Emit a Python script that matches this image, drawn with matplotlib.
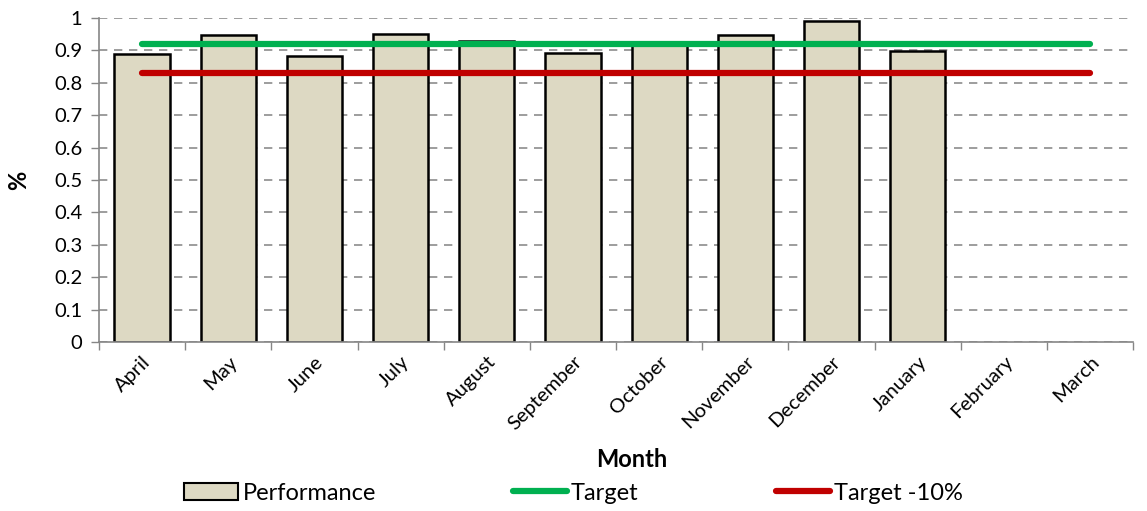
import matplotlib
matplotlib.use("Agg")
import matplotlib.pyplot as plt
from matplotlib.patches import Patch
from matplotlib.lines import Line2D
import numpy as np

months = ["April", "May", "June", "July", "August", "September", "October",
          "November", "December", "January", "February", "March"]
performance = [0.889, 0.948, 0.883, 0.951, 0.929, 0.892, 0.923, 0.948, 0.991, 0.898, None, None]
target = [0.92] * 12
target_minus10 = [0.83] * 12
yticks = [0, 0.1, 0.2, 0.3, 0.4, 0.5, 0.6, 0.7, 0.8, 0.9, 1]
ytick_labels = ["0", "0.1", "0.2", "0.3", "0.4", "0.5", "0.6", "0.7", "0.8", "0.9", "1"]

plt.rcParams['font.family'] = ['Lato', 'DejaVu Sans']

fig = plt.figure(figsize=(11.47, 5.11), dpi=100)
ax = fig.add_axes([0.0863, 0.3307, 0.9017, 0.6341])

x = np.arange(len(months))
bx = [i for i, v in enumerate(performance) if v is not None]
bv = [v for v in performance if v is not None]
ax.bar(bx, bv, width=0.64, color="#DDD9C3", edgecolor="black", linewidth=1.8, zorder=2)
ax.plot(x, target, color="#00B050", linewidth=4.5, solid_capstyle="round", zorder=3)
ax.plot(x, target_minus10, color="#C00000", linewidth=4.5, solid_capstyle="round", zorder=3)

ax.set_xlim(-0.5, 11.5)
ax.set_ylim(0, 1)
ax.set_yticks(yticks)
ax.set_yticklabels(ytick_labels, fontsize=14.5)
ax.yaxis.grid(True, linestyle=(0, (5, 4)), color="#8C8C8C", linewidth=1.2, zorder=0)
ax.set_axisbelow(True)

ax.set_xticks(x)
ax.set_xticklabels(months, rotation=45, ha="right", rotation_mode="anchor", fontsize=14.5)
ax.tick_params(axis="x", which="major", length=0, pad=8)
ax.set_xticks(np.arange(-0.5, 12, 1), minor=True)
ax.tick_params(axis="x", which="minor", length=6, color="#868686", width=1)
ax.tick_params(axis="y", length=6, color="#868686", width=1, pad=6)

for s in ["top", "right"]:
    ax.spines[s].set_visible(False)
for s in ["left", "bottom"]:
    ax.spines[s].set_color("#868686")
    ax.spines[s].set_linewidth(1.2)

ax.set_ylabel("%", fontsize=17, fontweight="bold", va="center")
ax.yaxis.set_label_coords(-0.078, 0.5)
ax.set_xlabel("Month", fontsize=17, fontweight="bold", va="center")
ax.xaxis.set_label_coords(0.515, -0.364)

handles = [Patch(facecolor="#DDD9C3", edgecolor="black", linewidth=1.5),
           Line2D([], [], color="#00B050", linewidth=4.5, solid_capstyle="round"),
           Line2D([], [], color="#C00000", linewidth=4.5, solid_capstyle="round")]
fig.legend(handles, ["Performance", "Target", "Target -10%"], loc="center",
           bbox_to_anchor=(0.5, 0.035), ncol=3, frameon=False, fontsize=17,
           handlelength=2.3, handleheight=0.7, handletextpad=0.17, columnspacing=5.8,
           borderpad=0, borderaxespad=0)

fig.savefig("out.png", dpi=100)
